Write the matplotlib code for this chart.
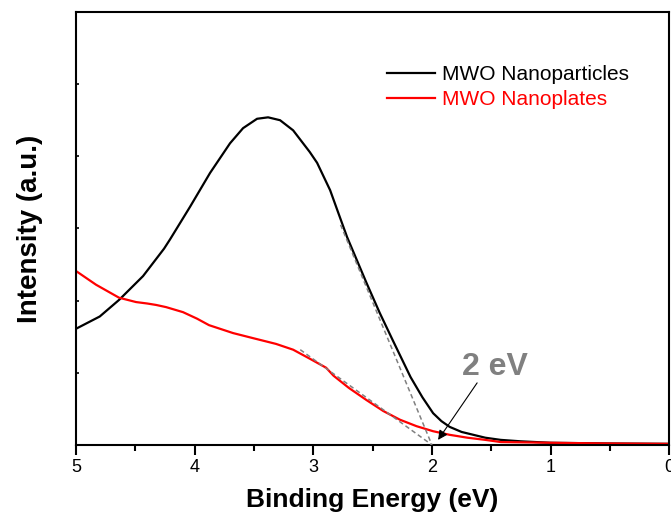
import numpy as np
import matplotlib
matplotlib.use('Agg')
import matplotlib.pyplot as plt

plt.rcParams['font.family'] = ['Liberation Sans', 'DejaVu Sans']

# MWO nanoparticles (black)
e_particles = [5.00, 4.80, 4.637, 4.435, 4.258, 4.207, 4.039, 3.870, 3.702, 3.592,
               3.474, 3.381, 3.280, 3.170, 3.086, 3.03, 2.968, 2.858, 2.79, 2.715,
               2.63, 2.55, 2.44, 2.33, 2.18, 2.08, 1.99, 1.92, 1.85, 1.75,
               1.65, 1.55, 1.42, 1.25, 1.00, 0.50, 0.00]
i_particles = [1.61, 1.78, 2.01, 2.34, 2.72, 2.85, 3.30, 3.77, 4.18, 4.39,
               4.52, 4.54, 4.50, 4.36, 4.18, 4.06, 3.91, 3.53, 3.22, 2.88,
               2.55, 2.24, 1.83, 1.45, 0.94, 0.66, 0.44, 0.33, 0.25, 0.18,
               0.14, 0.10, 0.07, 0.05, 0.03, 0.02, 0.015]

# MWO nanoplates (red)
e_plates = [5.00, 4.831, 4.637, 4.494, 4.40, 4.325, 4.241, 4.098, 3.98, 3.879,
            3.676, 3.508, 3.314, 3.170, 3.035, 2.892, 2.83, 2.70, 2.55, 2.41,
            2.27, 2.13, 1.99, 1.85, 1.70, 1.55, 1.42, 1.20, 1.00, 0.50, 0.00]
i_plates = [2.41, 2.22, 2.04, 1.98, 1.96, 1.94, 1.91, 1.84, 1.75, 1.66,
            1.55, 1.48, 1.40, 1.32, 1.20, 1.07, 0.96, 0.79, 0.62, 0.47,
            0.35, 0.26, 0.19, 0.14, 0.10, 0.07, 0.04, 0.035, 0.03, 0.02, 0.015]

# tangent lines meeting the axis at the band edge
tan_black_e = [2.77, 2.00]
tan_black_i = [3.05, 0.00]
tan_red_e = [3.11, 2.00]
tan_red_i = [1.32, 0.00]

edge = 2.0
label_pos = (1.471, 0.97)
arrow_tail = (1.619, 0.86)
arrow_head = (1.948, 0.07)

fig = plt.figure(figsize=(6.71, 5.21), dpi=100)
ax = fig.add_axes([0.1133, 0.146, 0.884, 0.831])

ax.plot(e_particles, i_particles, color='black', lw=1.6, label='MWO Nanoparticles')
ax.plot(e_plates, i_plates, color='#ff0000', lw=1.6, label='MWO Nanoplates')
ax.plot(tan_black_e, tan_black_i, color='#808080', lw=1.1, ls=(0, (3, 2)), zorder=5)
ax.plot(tan_red_e, tan_red_i, color='#808080', lw=1.1, ls=(0, (3, 2)), zorder=5)

ax.annotate('', xy=arrow_head, xytext=arrow_tail,
            arrowprops=dict(arrowstyle='-|>', color='black', lw=0.8,
                            mutation_scale=14, shrinkA=0, shrinkB=0))
ax.text(label_pos[0], label_pos[1], '%g eV' % edge, color='#808080',
        fontsize=23, fontweight='bold', ha='center', va='baseline')

ax.set_xlim(5, 0)
ax.set_ylim(0, 6)
ax.set_xticks([5, 4, 3, 2, 1, 0])
ax.set_xticks(np.arange(0.5, 5, 1.0), minor=True)
ax.set_yticks([1, 2, 3, 4, 5])
ax.set_yticklabels([])
ax.tick_params(axis='x', which='major', direction='out', length=7, width=1.5,
               labelsize=13, pad=3)
ax.tick_params(axis='x', which='minor', direction='out', length=4, width=1.5)
ax.tick_params(axis='y', which='major', direction='in', length=2.5, width=1.2)
for s in ax.spines.values():
    s.set_linewidth(1.5)

ax.set_xlabel('Binding Energy (eV)', fontsize=19, fontweight='bold', labelpad=9)
ax.set_ylabel('Intensity (a.u.)', fontsize=20, fontweight='bold', labelpad=20)

ax.legend(loc='upper left', bbox_to_anchor=(0.525, 0.877), frameon=False,
          fontsize=15, handlelength=2.3, handletextpad=0.3, labelspacing=0.27,
          borderpad=0, borderaxespad=0, labelcolor='linecolor')

fig.savefig('out.png', dpi=100)
